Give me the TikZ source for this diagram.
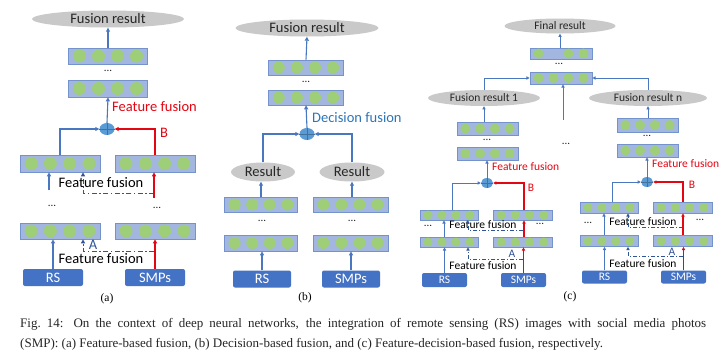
\documentclass[tikz,border=0pt]{standalone}
\usepackage{fontspec}
\setmainfont{Liberation Serif}
\newfontfamily\diagfont{Carlito}
\usetikzlibrary{calc,arrows.meta,shapes.geometric}

\definecolor{boxfill}{HTML}{A3B6E0}
\definecolor{boxedge}{HTML}{7492CC}
\definecolor{neuron}{HTML}{9FCE79}
\definecolor{outgrey}{HTML}{C9C9C9}
\definecolor{srcblue}{HTML}{4472C4}
\definecolor{sumblue}{HTML}{5B9BD5}
\definecolor{sumedge}{HTML}{41719C}
\definecolor{linkblue}{HTML}{4A78C0}
\definecolor{dashblue}{HTML}{2F5597}
\definecolor{linkred}{HTML}{E30613}
\definecolor{decblue}{HTML}{2E75B6}
\definecolor{textdark}{HTML}{262626}

\tikzset{
  x=1pt, y=-1pt,
  tip/.tip={Triangle[length=4pt,width=4pt]},
  smalltip/.tip={Triangle[length=3.2pt,width=3.2pt]},
  layerbox/.style={draw=boxedge, fill=boxfill, line width=0.7pt, inner sep=0pt, rectangle},
  neuronfill/.style={fill=neuron},
  outcome/.style={ellipse, fill=outgrey, inner sep=0pt, text=textdark},
  srcbox/.style={rectangle, rounded corners=2pt, fill=srcblue, text=white, inner sep=0pt},
  sumnode/.style={ellipse, fill=sumblue, inner sep=0pt},
  sumcross/.style={draw=sumedge, line width=0.4pt},
  barrow/.style={draw=linkblue, line width=1.1pt, -tip},
  rarrow/.style={draw=linkred, line width=1.4pt, -tip},
  barrowS/.style={draw=linkblue, line width=0.9pt, -smalltip},
  rarrowS/.style={draw=linkred, line width=1.2pt, -smalltip},
  dashlink/.style={draw=dashblue, line width=1pt, dash pattern=on 5pt off 2.5pt on 1.5pt off 2.5pt, -tip},
  dashlinkS/.style={draw=dashblue, line width=0.8pt, dash pattern=on 4pt off 2pt on 1.2pt off 2pt, -smalltip},
  bigtext/.style={font=\diagfont\fontsize{14.5}{17}\selectfont},
  smalltext/.style={font=\diagfont\fontsize{11.5}{13}\selectfont},
  plainlabel/.style={inner sep=0pt, text=black},
  redlabel/.style={inner sep=0pt, text=linkred},
  bluelabel/.style={inner sep=0pt, text=decblue},
  alabel/.style={inner sep=0pt, text=dashblue},
  ellip/.style={inner sep=0pt, text=textdark, font=\diagfont\fontsize{11}{12}\selectfont},
  sublabel/.style={inner sep=0pt, font=\fontsize{11.5}{13}\selectfont},
  captext/.style={inner sep=0pt, text=black!85, font=\fontsize{13}{15}\selectfont},
}

% a layer: framed bar holding green neurons in the given slots
\newcommand\layer[7]{%
  \node[layerbox, minimum width=#4pt, minimum height=#5pt] (#1) at (#2,#3) {};
  \foreach \k in {#7} \fill[neuronfill] ($(#1.center)+({\k*#4/4.15},0)$) circle (#6pt);
}
\newcommand\sumop[4]{%
  \node[sumnode, minimum width=#3pt, minimum height=#4pt] (#1) at #2 {};
  \draw[sumcross] (#1.north) -- (#1.south) (#1.west) -- (#1.east);
}

\begin{document}
\begin{tikzpicture}
\useasboundingbox (0,0) rectangle (726,359);
\fill[white] (0,0) rectangle (726,359);

% ---------------- (a) feature-based fusion ----------------
\node[outcome, bigtext, minimum width=152pt, minimum height=17pt] (resA) at (108,19) {Fusion result};
\layer{a1}{108}{56}{79}{16}{6.5}{-1.5,-0.5,0.5,1.5}
\node[ellip] (a1d) at (108,71) {...};
\layer{a2}{108}{88.5}{79}{17}{6.5}{-1.5,-0.5,0.5,1.5}
\sumop{sumA}{(107,129)}{15}{12}
\node[redlabel, bigtext, anchor=west] (ffA) at (112,107) {Feature fusion};
\layer{ula}{60}{163.5}{80}{17}{6.5}{-1.5,-0.5,0.5,1.5}
\layer{ura}{155}{163.5}{80}{17}{6.5}{-1.5,-0.5,0.5,1.5}
\node[redlabel, bigtext] (bA) at (164,133) {B};
\draw[barrow] (a1.north) -- (resA.south);
\draw[barrow] (sumA.north) -- (a2.south);
\draw[barrow] (ula.north) |- (sumA.west);
\draw[rarrow] (ura.north) |- (sumA.east);

\coordinate (aUin) at (49,190);
\coordinate (aUdash) at (154,193);
\coordinate (aUred) at (154,198);
\draw[barrow] (aUin) -- (aUin |- ula.south);
\draw[dashlink] (aUdash) -| ([xshift=23pt]ula.south);
\draw[rarrow] (aUred) -- (aUred |- ura.south);
\node[plainlabel, bigtext] (ffA2) at (101,183) {Feature fusion};
\node[ellip] (adL) at (52,206) {...};
\node[ellip] (adR) at (157,208) {...};

\layer{lla}{60}{231}{80}{16}{6.5}{-1.5,-0.5,0.5,1.5}
\layer{lra}{155}{231}{80}{16}{6.5}{-1.5,-0.5,0.5,1.5}
\node[srcbox, bigtext, minimum width=60pt, minimum height=17pt] (rsA) at (53,277.5) {RS};
\node[srcbox, bigtext, minimum width=60pt, minimum height=17pt] (smA) at (155,277.5) {SMPs};
\draw[barrow] (rsA.north) -- (rsA.north |- lla.south);
\draw[rarrow] (smA.north) -- (smA.north |- lra.south);
\coordinate (aLdash) at (154,251);
\draw[dashlink] (aLdash) -| ([xshift=23pt]lla.south);
\node[alabel, bigtext] (aA) at (93,244.5) {A};
\node[plainlabel, bigtext] (ffA3) at (101,259) {Feature fusion};
\node[sublabel] (capa) at (107,299) {(a)};

% ---------------- (b) decision-based fusion ----------------
\node[outcome, bigtext, minimum width=143pt, minimum height=17pt] (resB) at (307,28) {Fusion result};
\layer{b1}{306}{67.5}{75}{15}{6}{-1.5,-0.5,0.5,1.5}
\node[ellip] (b1d) at (306,82) {...};
\layer{b2}{306}{97.5}{75}{15}{6}{-1.5,-0.5,0.5,1.5}
\sumop{sumB}{(307,134)}{15}{12}
\node[bluelabel, bigtext, anchor=west] (dfB) at (312,118) {Decision fusion};
\node[outcome, bigtext, minimum width=64pt, minimum height=19pt] (resBL) at (263,172) {Result};
\node[outcome, bigtext, minimum width=65pt, minimum height=19pt] (resBR) at (352,172) {Result};
\layer{bl1}{261}{204.5}{73}{15}{6}{-1.5,-0.5,0.5,1.5}
\layer{br1}{350.5}{204.5}{75}{15}{6}{-1.5,-0.5,0.5,1.5}
\node[ellip] (bdL) at (262,221) {...};
\node[ellip] (bdR) at (352,221) {...};
\layer{bl2}{261}{243}{73}{16}{6}{-1.5,-0.5,0.5,1.5}
\layer{br2}{350.5}{243}{75}{16}{6}{-1.5,-0.5,0.5,1.5}
\node[srcbox, bigtext, minimum width=58pt, minimum height=17pt] (rsB) at (262,279) {RS};
\node[srcbox, bigtext, minimum width=58pt, minimum height=17pt] (smB) at (351,279) {SMPs};
\draw[barrow] (b1.north) -- (resB.south);
\draw[barrow] (sumB.north) -- (b2.south);
\draw[barrow] (resBL.north) |- (sumB.west);
\draw[barrow] (resBR.north) |- (sumB.east);
\draw[barrow] (bl1.north) -- (bl1.north |- resBL.south);
\draw[barrow] (br1.north -| resBR) -- (resBR.south);
\draw[barrow] (rsB.north) -- (rsB.north |- bl2.south);
\draw[barrow] (smB.north) -- (smB.north |- br2.south);
\node[sublabel] (capb) at (305,298) {(b)};

% ---------------- (c) feature-decision-based fusion ----------------
\node[outcome, smalltext, minimum width=111pt, minimum height=15pt] (finC) at (560,26) {Final result};
\layer{c1}{561}{53.5}{62}{11}{5}{-1.5,0.5,1.5}
\node[ellip] (c1d) at (559,64) {...};
\layer{c2}{561}{78}{62}{12}{5}{-1.5,-0.5,0.5,1.5}
\node[outcome, smalltext, minimum width=112pt, minimum height=16pt] (fr1) at (484,98) {Fusion result 1};
\node[outcome, smalltext, minimum width=118pt, minimum height=16pt] (frn) at (648,98) {Fusion result n};
\coordinate (cMid) at (563,120);
\node[ellip] (cMidd) at (566,144) {...};
\draw[barrowS] (c1.north -| finC) -- (finC.south);
\draw[barrowS] (fr1.north) |- (c2.west);
\draw[barrowS] (frn.north) |- (c2.east);
\draw[barrowS] (cMid) -- (cMid |- c2.south);

% left branch
\layer{l1}{487.5}{128.5}{61}{13}{5}{-1.5,-0.5,0.5,1.5}
\node[ellip] (l1d) at (487,140) {...};
\layer{l2}{487.5}{153.5}{61}{13}{5}{-1.5,-0.5,0.5,1.5}
\draw[barrowS] (l1.north -| fr1) -- (fr1.south);
\sumop{sumC}{(487,183)}{12}{10}
\node[redlabel, smalltext, anchor=west] (ffC) at (492,167) {Feature fusion};
\draw[barrowS] (sumC.north) -- (sumC.north |- l2.south);
\layer{clu}{449}{215}{58}{10}{4.5}{-1.5,-0.5,0.5,1.5}
\layer{cru}{522.5}{215}{59}{10}{4.5}{-1.5,-0.5,0.5,1.5}
\draw[barrowS] ([xshift=3pt]clu.north) |- (sumC.west);
\draw[rarrowS] ([xshift=1.5pt]cru.north) |- (sumC.east);
\node[redlabel, smalltext] (bC) at (531,188) {B};
\node[plainlabel, smalltext] (ffC2) at (483,225) {Feature fusion};
\node[ellip] (cdL) at (428,226) {...};
\node[ellip] (cdR) at (540,224) {...};
\layer{cll}{449}{242}{58}{10}{4.5}{-1.5,-0.5,0.5,1.5}
\layer{crl}{522.5}{242}{59}{10}{4.5}{-1.5,-0.5,0.5,1.5}
\draw[barrowS] ([xshift=-5pt]cll.north) -- ([xshift=-5pt]clu.south);
\draw[rarrowS] ([xshift=1.5pt]crl.north) -- ([xshift=1.5pt]cru.south);
\coordinate (cUdash) at (523,230);
\draw[dashlinkS] (cUdash) -| ([xshift=19pt]clu.south);
\node[srcbox, smalltext, minimum width=45pt, minimum height=14pt] (rsC) at (444.5,280) {RS};
\node[srcbox, smalltext, minimum width=45pt, minimum height=14pt] (smC) at (523.5,280) {SMPs};
\draw[barrowS] (rsC.north) -- (rsC.north |- cll.south);
\draw[rarrowS] (smC.north) -- (smC.north |- crl.south);
\coordinate (cLdash) at (523,259);
\draw[dashlinkS] (cLdash) -| ([xshift=19pt]cll.south);
\node[alabel, smalltext] (aC) at (512,254) {A};
\node[plainlabel, smalltext] (ffC3) at (483,266) {Feature fusion};

% right branch
\layer{r1}{647.5}{125}{61}{14}{5}{-1.5,-0.5,0.5,1.5}
\node[ellip] (r1d) at (647,136) {...};
\layer{r2}{647.5}{150.5}{61}{13}{5}{-1.5,-0.5,0.5,1.5}
\draw[barrowS] (r1.north -| frn) -- (frn.south);
\sumop{sumD}{(647,182)}{12}{10}
\node[redlabel, smalltext, anchor=west] (ffD) at (652,164) {Feature fusion};
\draw[barrowS] (sumD.north) -- (sumD.north |- r2.south);
\layer{dlu}{609}{207.5}{58}{11}{4.5}{-1.5,-0.5,0.5,1.5}
\layer{dru}{682.5}{207.5}{59}{11}{4.5}{-1.5,-0.5,0.5,1.5}
\draw[barrowS] ([xshift=3pt]dlu.north) |- (sumD.west);
\draw[rarrowS] ([xshift=0.5pt]dru.north) |- (sumD.east);
\node[redlabel, smalltext] (bD) at (692,185) {B};
\node[plainlabel, smalltext] (ffD2) at (643,222) {Feature fusion};
\node[ellip] (ddL) at (588,223) {...};
\node[ellip] (ddR) at (700,220) {...};
\layer{dll}{609}{241}{58}{11}{4.5}{-1.5,-0.5,0.5,1.5}
\layer{drl}{682.5}{241}{59}{11}{4.5}{-1.5,-0.5,0.5,1.5}
\draw[barrowS] ([xshift=-5pt]dll.north) -- ([xshift=-5pt]dlu.south);
\draw[rarrowS] ([xshift=0.5pt]drl.north) -- ([xshift=0.5pt]dru.south);
\coordinate (dUdash) at (683,227);
\draw[dashlinkS] (dUdash) -| ([xshift=19pt]dlu.south);
\node[srcbox, smalltext, minimum width=45pt, minimum height=13pt] (rsD) at (604.5,277) {RS};
\node[srcbox, smalltext, minimum width=45pt, minimum height=13pt] (smD) at (683.5,277) {SMPs};
\draw[barrowS] (rsD.north) -- (rsD.north |- dll.south);
\draw[rarrowS] (smD.north) -- (smD.north |- drl.south);
\coordinate (dLdash) at (683,256);
\draw[dashlinkS] (dLdash) -| ([xshift=19pt]dll.south);
\node[alabel, smalltext] (aD) at (672,251.5) {A};
\node[plainlabel, smalltext] (ffD3) at (643,263.5) {Feature fusion};
\node[sublabel] (capc) at (570,297) {(c)};

% ---------------- caption ----------------
\node[captext, anchor=base west] (cap1) at (20,327) {\hbox to 686pt{Fig.~14: On the context of deep neural networks, the integration of remote sensing (RS) images with social media photos}};
\node[captext, anchor=base west] (cap2) at (20,347) {(SMP): (a) Feature-based fusion, (b) Decision-based fusion, and (c) Feature-decision-based fusion, respectively.};
\end{tikzpicture}
\end{document}
